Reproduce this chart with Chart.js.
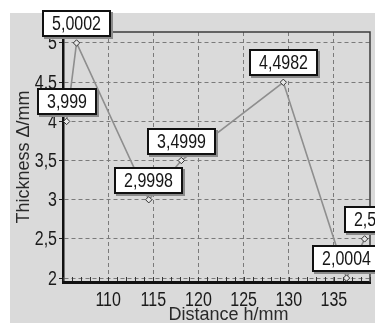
<!DOCTYPE html>
<html>
<head>
<meta charset="utf-8">
<script src="https://cdn.jsdelivr.net/npm/chart.js@4/dist/chart.umd.min.js"></script>
<style>
  html, body { margin: 0; padding: 0; background: #ffffff; }
  #wrap { position: relative; width: 375px; height: 323px; }
  canvas { display: block; }
</style>
</head>
<body>
<div id="wrap"><canvas id="c" width="375" height="323"></canvas></div>
<script>
// Measured wall thickness along the profile
const distances = [105.4, 106.5, 114.5, 118.1, 129.4, 136.4, 138.4];
const thickness = [3.999, 5.0002, 2.9998, 3.4999, 4.4982, 2.0004, 2.5];
const xTicks = [110, 115, 120, 125, 130, 135];
const yTicks = [2, 2.5, 3, 3.5, 4, 4.5, 5];
const xTitle = 'Distance h/mm';
const yTitle = 'Thickness \u0394/mm';

const SANS = "'Liberation Sans', Arial, sans-serif";
const NUM_FONT = '20px ' + SANS;
const NUM_SQUEEZE = 0.8;   // digits are drawn narrow
const comma = v => String(v).replace('.', ',');
const fmtValue = v => comma(parseFloat(v.toFixed(4)));

// draw a horizontally condensed string centred (or right-aligned) at x
function narrowText(ctx, text, x, y, align) {
  ctx.save();
  ctx.translate(x, y);
  ctx.scale(NUM_SQUEEZE, 1);
  ctx.textAlign = align;
  ctx.textBaseline = 'middle';
  ctx.fillText(text, 0, 0);
  ctx.restore();
}

// Grey panel behind the whole chart
const panel = {
  id: 'panel',
  beforeDraw(chart) {
    const ctx = chart.ctx;
    ctx.save();
    ctx.fillStyle = '#dadada';
    ctx.fillRect(10, 13, chart.width - 10, chart.height - 13);
    ctx.restore();
  }
};

// Top/right frame, minor x ticks, tick labels and the axis titles
const frame = {
  id: 'frame',
  beforeDatasetsDraw(chart) {
    const { ctx, chartArea: a, scales } = chart;
    ctx.save();
    ctx.strokeStyle = '#3c3c3c';
    ctx.lineWidth = 1.5;
    ctx.beginPath();
    ctx.moveTo(a.left, a.top);
    ctx.lineTo(a.right, a.top);
    ctx.lineTo(a.right, a.bottom);
    ctx.stroke();

    // minor ticks every 1 mm along the bottom axis
    ctx.strokeStyle = '#333';
    ctx.lineWidth = 1;
    const xs = scales.x, ys = scales.y;
    for (let v = Math.ceil(xs.min); v <= xs.max; v++) {
      const px = Math.round(xs.getPixelForValue(v)) + 0.5;
      ctx.beginPath();
      ctx.moveTo(px, a.bottom - 1);
      ctx.lineTo(px, a.bottom - 5);
      ctx.stroke();
    }

    // tick labels
    ctx.fillStyle = '#1a1a1a';
    ctx.font = NUM_FONT;
    xs.ticks.forEach(t => {
      narrowText(ctx, comma(t.value), xs.getPixelForValue(t.value), a.bottom + 18, 'center');
    });
    ys.ticks.forEach(t => {
      narrowText(ctx, comma(t.value), a.left - 6, ys.getPixelForValue(t.value) + 1, 'right');
    });

    // axis titles
    ctx.fillStyle = '#2a2a2a';
    ctx.font = '18px ' + SANS;
    ctx.textAlign = 'center';
    ctx.textBaseline = 'middle';
    ctx.fillText(xTitle, (a.left + a.right) / 2 + 12, 315);
    ctx.translate(24, (a.top + a.bottom) / 2);
    ctx.rotate(-Math.PI / 2);
    ctx.fillText(yTitle, 0, 0);
    ctx.restore();
  }
};

// Boxed value labels above each measured point
const valueBoxes = {
  id: 'valueBoxes',
  afterDatasetsDraw(chart) {
    const ctx = chart.ctx;
    const meta = chart.getDatasetMeta(0);
    ctx.save();
    ctx.font = NUM_FONT;
    meta.data.forEach((pt, i) => {
      const text = fmtValue(thickness[i]);
      const w = Math.round(ctx.measureText(text).width * NUM_SQUEEZE) + 20;
      const h = 27;
      const x = Math.round(pt.x - w / 2);
      const y = Math.round(pt.y - 6 - h);
      ctx.fillStyle = '#8a8a8a';
      ctx.fillRect(x + 2, y + 2, w, h);
      ctx.fillStyle = '#ffffff';
      ctx.fillRect(x, y, w, h);
      ctx.strokeStyle = '#111';
      ctx.lineWidth = 2;
      ctx.strokeRect(x + 1, y + 1, w - 2, h - 2);
      ctx.fillStyle = '#151515';
      narrowText(ctx, text, x + w / 2, y + h / 2 + 1, 'center');
    });
    ctx.restore();
  }
};

new Chart(document.getElementById('c'), {
  type: 'scatter',
  data: {
    datasets: [{
      data: distances.map((x, i) => ({ x, y: thickness[i] })),
      showLine: true,
      borderColor: '#8e8e8e',
      borderWidth: 1.6,
      tension: 0,
      pointStyle: 'rectRot',
      pointRadius: 3.2,
      pointBackgroundColor: '#e6e6e6',
      pointBorderColor: '#333',
      pointBorderWidth: 1
    }]
  },
  options: {
    responsive: false,
    animation: false,
    devicePixelRatio: 1,
    layout: { padding: { top: 32, right: 3, left: 0, bottom: 0 } },
    plugins: { legend: { display: false }, tooltip: { enabled: false } },
    scales: {
      x: {
        type: 'linear',
        min: 105,
        max: 139,
        afterBuildTicks: s => { s.ticks = xTicks.map(v => ({ value: v })); },
        afterFit: s => { s.height = 41; },
        ticks: { display: false },
        grid: { color: '#7a7a7a', lineWidth: 1, drawTicks: false },
        border: { display: true, color: '#111', width: 3, dash: [4, 3] }
      },
      y: {
        min: 1.95,
        max: 5.14,
        afterBuildTicks: s => { s.ticks = yTicks.map(v => ({ value: v })); },
        afterFit: s => { s.width = 63; },
        ticks: { display: false },
        grid: {
          color: '#7a7a7a', lineWidth: 1,
          drawTicks: true, tickLength: 4,
          tickColor: '#222', tickWidth: 1, tickBorderDash: []
        },
        border: { display: true, color: '#111', width: 2.5, dash: [4, 3] }
      }
    }
  },
  plugins: [panel, frame, valueBoxes]
});
</script>
</body>
</html>
